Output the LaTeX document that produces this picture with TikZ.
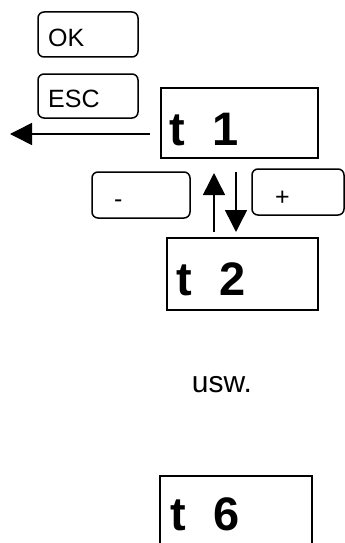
\documentclass[tikz,border=0pt]{standalone}
\usepackage{fontspec}
\setmainfont{Liberation Sans}
\usetikzlibrary{arrows.meta}
\tikzset{
  key/.style={draw, line width=1.5pt, rounded corners=6pt},
  disp/.style={draw, line width=1.5pt},
  keytext/.style={anchor=base west, inner sep=0pt, font=\fontsize{25}{25}\selectfont},
  disptext/.style={anchor=base west, inner sep=0pt, font=\fontsize{47}{47}\selectfont\bfseries},
  arr/.style={line width=1.5pt, -{Triangle[length=22pt,width=22pt]}}
}
\begin{document}
\begin{tikzpicture}[x=1pt,y=-1pt]
\useasboundingbox (0,0) rectangle (345,543);
\clip (0,0) rectangle (345,543);
% keys
\draw[key] (38,12) rectangle (138,57);
\node[keytext] (ok) at (48,47) {OK};
\draw[key] (38,74) rectangle (138,118);
\node[keytext] (esc) at (48,107) {ESC};
\draw[key] (92,172) rectangle (190,218);
\node[keytext] (minus) at (114,207) {-};
\draw[key] (252,169) rectangle (344,215);
\node[keytext] (plus) at (275,205) {+};
% displays
\draw[disp] (161,88) rectangle (318,158);
\node[disptext] (t1) at (169,145) {t\hspace*{28pt}1};
\draw[disp] (167,238) rectangle (318,310);
\node[disptext] (t2) at (176,295) {t\hspace*{28pt}2};
\draw[disp] (160,476) rectangle (312,570);
\node[disptext] (t6) at (170,530) {t\hspace*{28pt}6};
% arrows
\coordinate (escS) at (150,134);
\coordinate (escE) at (10,134);
\draw[arr] (escS) -- (escE);
\coordinate (upS) at (214,232);
\coordinate (upE) at (214,173);
\draw[arr] (upS) -- (upE);
\coordinate (dnS) at (236,172);
\coordinate (dnE) at (236,232);
\draw[arr] (dnS) -- (dnE);
% usw.
\node[font=\fontsize{30}{30}\selectfont, inner sep=0pt, anchor=base] (usw) at (222,392) {usw.};
\end{tikzpicture}
\end{document}
